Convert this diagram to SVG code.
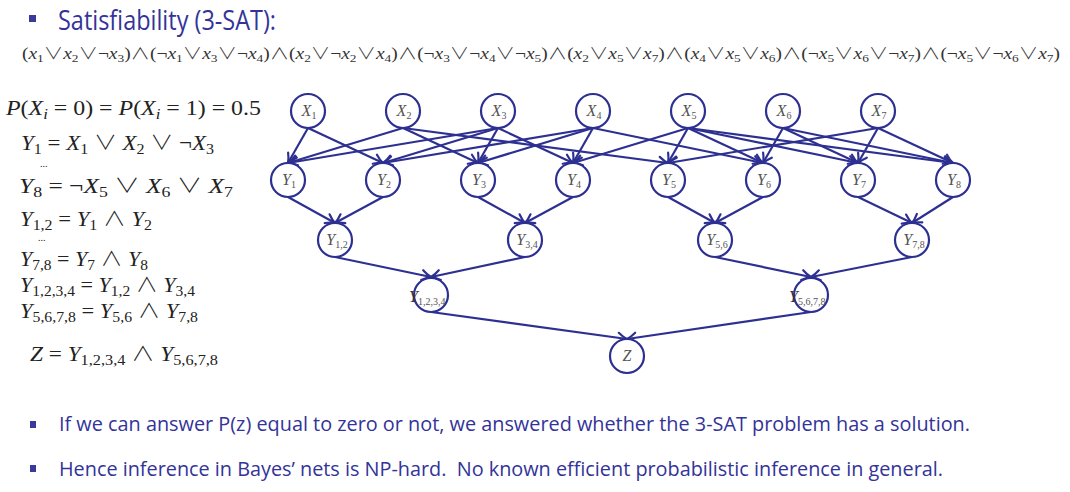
<svg xmlns="http://www.w3.org/2000/svg" width="1070" height="492" viewBox="0 0 1070 492">
<style>
.title{font-family:"Open Sans","Liberation Sans",sans-serif;font-size:28px;fill:#333399}
.bul{font-family:"Open Sans","Liberation Sans",sans-serif;font-size:20px;fill:#333399}
.sq{fill:#3a3a9a}
.f{font-family:"Liberation Serif","DejaVu Serif",serif;font-size:16px;fill:#333}
.eq{font-family:"Liberation Serif","DejaVu Serif",serif;font-size:20px;fill:#222}
.o{font-family:"DejaVu Sans","Noto Sans CJK JP",sans-serif;font-weight:200}
.i{font-style:italic}
.s{font-size:11px}
.s2{font-size:14px}
.node circle{fill:#fff;stroke:#2d3091;stroke-width:2.2}
.lab{font-family:"Liberation Serif",serif;font-size:16px;fill:#555;font-style:italic;text-anchor:middle}
.lab .n{font-style:normal;font-size:10px}
.lab2{font-family:"Liberation Serif",serif;font-size:16px;fill:#333;font-style:italic}
.lab2 .n{font-style:normal;font-size:10px;fill:#555}
#edges line{stroke:#2d3091;stroke-width:2.2;marker-end:url(#ah)}
</style>
<defs>
<marker id="ah" viewBox="-11 -7 13 14" refX="0" refY="0" markerWidth="13" markerHeight="14" markerUnits="userSpaceOnUse" orient="auto" overflow="visible">
<path d="M-9,-5 Q-4,-1.2 0,0 Q-4,1.2 -9,5" fill="none" stroke="#2d3091" stroke-width="2.2" stroke-linecap="round"/>
</marker>
</defs>
<rect width="1070" height="492" fill="#fff"/>

<rect class="sq" x="29" y="15" width="7" height="7"/>
<text class="title" x="58" y="30" textLength="218" lengthAdjust="spacingAndGlyphs">Satisfiability (3-SAT):</text>

<text class="f" x="22" y="59" textLength="1038" lengthAdjust="spacingAndGlyphs">(<tspan class="i">x</tspan><tspan class="s" dy="3">1</tspan><tspan dy="-3"><tspan class="o">∨</tspan></tspan><tspan class="i">x</tspan><tspan class="s" dy="3">2</tspan><tspan dy="-3"><tspan class="o">∨</tspan>¬</tspan><tspan class="i">x</tspan><tspan class="s" dy="3">3</tspan><tspan dy="-3">)<tspan class="o">∧</tspan>(¬</tspan><tspan class="i">x</tspan><tspan class="s" dy="3">1</tspan><tspan dy="-3"><tspan class="o">∨</tspan></tspan><tspan class="i">x</tspan><tspan class="s" dy="3">3</tspan><tspan dy="-3"><tspan class="o">∨</tspan>¬</tspan><tspan class="i">x</tspan><tspan class="s" dy="3">4</tspan><tspan dy="-3">)<tspan class="o">∧</tspan>(</tspan><tspan class="i">x</tspan><tspan class="s" dy="3">2</tspan><tspan dy="-3"><tspan class="o">∨</tspan>¬</tspan><tspan class="i">x</tspan><tspan class="s" dy="3">2</tspan><tspan dy="-3"><tspan class="o">∨</tspan></tspan><tspan class="i">x</tspan><tspan class="s" dy="3">4</tspan><tspan dy="-3">)<tspan class="o">∧</tspan>(¬</tspan><tspan class="i">x</tspan><tspan class="s" dy="3">3</tspan><tspan dy="-3"><tspan class="o">∨</tspan>¬</tspan><tspan class="i">x</tspan><tspan class="s" dy="3">4</tspan><tspan dy="-3"><tspan class="o">∨</tspan>¬</tspan><tspan class="i">x</tspan><tspan class="s" dy="3">5</tspan><tspan dy="-3">)<tspan class="o">∧</tspan>(</tspan><tspan class="i">x</tspan><tspan class="s" dy="3">2</tspan><tspan dy="-3"><tspan class="o">∨</tspan></tspan><tspan class="i">x</tspan><tspan class="s" dy="3">5</tspan><tspan dy="-3"><tspan class="o">∨</tspan></tspan><tspan class="i">x</tspan><tspan class="s" dy="3">7</tspan><tspan dy="-3">)<tspan class="o">∧</tspan>(</tspan><tspan class="i">x</tspan><tspan class="s" dy="3">4</tspan><tspan dy="-3"><tspan class="o">∨</tspan></tspan><tspan class="i">x</tspan><tspan class="s" dy="3">5</tspan><tspan dy="-3"><tspan class="o">∨</tspan></tspan><tspan class="i">x</tspan><tspan class="s" dy="3">6</tspan><tspan dy="-3">)<tspan class="o">∧</tspan>(¬</tspan><tspan class="i">x</tspan><tspan class="s" dy="3">5</tspan><tspan dy="-3"><tspan class="o">∨</tspan></tspan><tspan class="i">x</tspan><tspan class="s" dy="3">6</tspan><tspan dy="-3"><tspan class="o">∨</tspan>¬</tspan><tspan class="i">x</tspan><tspan class="s" dy="3">7</tspan><tspan dy="-3">)<tspan class="o">∧</tspan>(¬</tspan><tspan class="i">x</tspan><tspan class="s" dy="3">5</tspan><tspan dy="-3"><tspan class="o">∨</tspan>¬</tspan><tspan class="i">x</tspan><tspan class="s" dy="3">6</tspan><tspan dy="-3"><tspan class="o">∨</tspan></tspan><tspan class="i">x</tspan><tspan class="s" dy="3">7</tspan><tspan dy="-3">)</tspan></text>

<g id="equations">
<text class="eq" x="6" y="115" textLength="255" lengthAdjust="spacingAndGlyphs"><tspan class="i">P</tspan>(<tspan class="i">X</tspan><tspan class="s2 i" dy="4">i</tspan><tspan dy="-4"> = 0) = </tspan><tspan class="i">P</tspan>(<tspan class="i">X</tspan><tspan class="s2 i" dy="4">i</tspan><tspan dy="-4"> = 1) = 0.5</tspan></text>
<text class="eq" x="21" y="150" textLength="193" lengthAdjust="spacingAndGlyphs"><tspan class="i">Y</tspan><tspan class="s2" dy="4">1</tspan><tspan dy="-4"> = </tspan><tspan class="i">X</tspan><tspan class="s2" dy="4">1</tspan><tspan dy="-4"> <tspan class="o">∨</tspan> </tspan><tspan class="i">X</tspan><tspan class="s2" dy="4">2</tspan><tspan dy="-4"> <tspan class="o">∨</tspan> ¬</tspan><tspan class="i">X</tspan><tspan class="s2" dy="4">3</tspan></text>
<text class="eq" x="40" y="167" style="font-size:10px">...</text>
<text class="eq" x="19" y="193" textLength="214" lengthAdjust="spacingAndGlyphs"><tspan class="i">Y</tspan><tspan class="s2" dy="4">8</tspan><tspan dy="-4"> = ¬</tspan><tspan class="i">X</tspan><tspan class="s2" dy="4">5</tspan><tspan dy="-4"> <tspan class="o">∨</tspan> </tspan><tspan class="i">X</tspan><tspan class="s2" dy="4">6</tspan><tspan dy="-4"> <tspan class="o">∨</tspan> </tspan><tspan class="i">X</tspan><tspan class="s2" dy="4">7</tspan></text>
<text class="eq" x="20" y="226" textLength="132" lengthAdjust="spacingAndGlyphs"><tspan class="i">Y</tspan><tspan class="s2" dy="4">1,2</tspan><tspan dy="-4"> = </tspan><tspan class="i">Y</tspan><tspan class="s2" dy="4">1</tspan><tspan dy="-4"> <tspan class="o">∧</tspan> </tspan><tspan class="i">Y</tspan><tspan class="s2" dy="4">2</tspan></text>
<text class="eq" x="38" y="241" style="font-size:10px">...</text>
<text class="eq" x="20" y="266" textLength="128" lengthAdjust="spacingAndGlyphs"><tspan class="i">Y</tspan><tspan class="s2" dy="4">7,8</tspan><tspan dy="-4"> = </tspan><tspan class="i">Y</tspan><tspan class="s2" dy="4">7</tspan><tspan dy="-4"> <tspan class="o">∧</tspan> </tspan><tspan class="i">Y</tspan><tspan class="s2" dy="4">8</tspan></text>
<text class="eq" x="20" y="292" textLength="175" lengthAdjust="spacingAndGlyphs"><tspan class="i">Y</tspan><tspan class="s2" dy="4">1,2,3,4</tspan><tspan dy="-4"> = </tspan><tspan class="i">Y</tspan><tspan class="s2" dy="4">1,2</tspan><tspan dy="-4"> <tspan class="o">∧</tspan> </tspan><tspan class="i">Y</tspan><tspan class="s2" dy="4">3,4</tspan></text>
<text class="eq" x="20" y="318" textLength="178" lengthAdjust="spacingAndGlyphs"><tspan class="i">Y</tspan><tspan class="s2" dy="4">5,6,7,8</tspan><tspan dy="-4"> = </tspan><tspan class="i">Y</tspan><tspan class="s2" dy="4">5,6</tspan><tspan dy="-4"> <tspan class="o">∧</tspan> </tspan><tspan class="i">Y</tspan><tspan class="s2" dy="4">7,8</tspan></text>
<text class="eq" x="30" y="361" textLength="188" lengthAdjust="spacingAndGlyphs"><tspan class="i">Z</tspan> = <tspan class="i">Y</tspan><tspan class="s2" dy="4">1,2,3,4</tspan><tspan dy="-4"> <tspan class="o">∧</tspan> </tspan><tspan class="i">Y</tspan><tspan class="s2" dy="4">5,6,7,8</tspan></text>
</g>

<g id="edges">
<line x1="308" y1="128" x2="288" y2="163"/>
<line x1="308" y1="128" x2="383" y2="163"/>
<line x1="403" y1="128" x2="288" y2="163"/>
<line x1="403" y1="128" x2="478" y2="163"/>
<line x1="403" y1="128" x2="668" y2="163"/>
<line x1="498" y1="128" x2="288" y2="163"/>
<line x1="498" y1="128" x2="383" y2="163"/>
<line x1="498" y1="128" x2="478" y2="163"/>
<line x1="498" y1="128" x2="573" y2="163"/>
<line x1="593" y1="128" x2="383" y2="163"/>
<line x1="593" y1="128" x2="478" y2="163"/>
<line x1="593" y1="128" x2="573" y2="163"/>
<line x1="593" y1="128" x2="763" y2="163"/>
<line x1="688" y1="128" x2="573" y2="163"/>
<line x1="688" y1="128" x2="668" y2="163"/>
<line x1="688" y1="128" x2="763" y2="163"/>
<line x1="688" y1="128" x2="858" y2="163"/>
<line x1="688" y1="128" x2="953" y2="163"/>
<line x1="783" y1="128" x2="763" y2="163"/>
<line x1="783" y1="128" x2="858" y2="163"/>
<line x1="783" y1="128" x2="953" y2="163"/>
<line x1="878" y1="128" x2="668" y2="163"/>
<line x1="878" y1="128" x2="858" y2="163"/>
<line x1="878" y1="128" x2="953" y2="163"/>
<line x1="288" y1="197" x2="335" y2="223"/>
<line x1="383" y1="197" x2="335" y2="223"/>
<line x1="478" y1="197" x2="525" y2="223"/>
<line x1="573" y1="197" x2="525" y2="223"/>
<line x1="668" y1="197" x2="715" y2="223"/>
<line x1="763" y1="197" x2="715" y2="223"/>
<line x1="858" y1="197" x2="912" y2="223"/>
<line x1="953" y1="197" x2="912" y2="223"/>
<line x1="335" y1="257" x2="431" y2="277"/>
<line x1="525" y1="257" x2="431" y2="277"/>
<line x1="715" y1="257" x2="811" y2="277"/>
<line x1="912" y1="257" x2="811" y2="277"/>
<line x1="431" y1="312" x2="627" y2="339"/>
<line x1="811" y1="312" x2="627" y2="339"/>
</g>

<g id="X1" class="node"><circle cx="308" cy="111" r="17"/><text class="lab" x="309" y="116">X<tspan class="n" dy="3">1</tspan></text></g>
<g id="X2" class="node"><circle cx="403" cy="111" r="17"/><text class="lab" x="404" y="116">X<tspan class="n" dy="3">2</tspan></text></g>
<g id="X3" class="node"><circle cx="498" cy="111" r="17"/><text class="lab" x="499" y="116">X<tspan class="n" dy="3">3</tspan></text></g>
<g id="X4" class="node"><circle cx="593" cy="111" r="17"/><text class="lab" x="594" y="116">X<tspan class="n" dy="3">4</tspan></text></g>
<g id="X5" class="node"><circle cx="688" cy="111" r="17"/><text class="lab" x="689" y="116">X<tspan class="n" dy="3">5</tspan></text></g>
<g id="X6" class="node"><circle cx="783" cy="111" r="17"/><text class="lab" x="784" y="116">X<tspan class="n" dy="3">6</tspan></text></g>
<g id="X7" class="node"><circle cx="878" cy="111" r="17"/><text class="lab" x="879" y="116">X<tspan class="n" dy="3">7</tspan></text></g>

<g id="Y1" class="node"><circle cx="288" cy="180" r="17"/><text class="lab" x="289" y="185">Y<tspan class="n" dy="3">1</tspan></text></g>
<g id="Y2" class="node"><circle cx="383" cy="180" r="17"/><text class="lab" x="384" y="185">Y<tspan class="n" dy="3">2</tspan></text></g>
<g id="Y3" class="node"><circle cx="478" cy="180" r="17"/><text class="lab" x="479" y="185">Y<tspan class="n" dy="3">3</tspan></text></g>
<g id="Y4" class="node"><circle cx="573" cy="180" r="17"/><text class="lab" x="574" y="185">Y<tspan class="n" dy="3">4</tspan></text></g>
<g id="Y5" class="node"><circle cx="668" cy="180" r="17"/><text class="lab" x="669" y="185">Y<tspan class="n" dy="3">5</tspan></text></g>
<g id="Y6" class="node"><circle cx="763" cy="180" r="17"/><text class="lab" x="764" y="185">Y<tspan class="n" dy="3">6</tspan></text></g>
<g id="Y7" class="node"><circle cx="858" cy="180" r="17"/><text class="lab" x="859" y="185">Y<tspan class="n" dy="3">7</tspan></text></g>
<g id="Y8" class="node"><circle cx="953" cy="180" r="17"/><text class="lab" x="954" y="185">Y<tspan class="n" dy="3">8</tspan></text></g>

<g id="Y12" class="node"><circle cx="335" cy="240" r="17"/><text class="lab" x="337" y="245">Y<tspan class="n" dy="3">1,2</tspan></text></g>
<g id="Y34" class="node"><circle cx="525" cy="240" r="17"/><text class="lab" x="527" y="245">Y<tspan class="n" dy="3">3,4</tspan></text></g>
<g id="Y56" class="node"><circle cx="715" cy="240" r="17"/><text class="lab" x="717" y="245">Y<tspan class="n" dy="3">5,6</tspan></text></g>
<g id="Y78" class="node"><circle cx="912" cy="240" r="17"/><text class="lab" x="914" y="245">Y<tspan class="n" dy="3">7,8</tspan></text></g>

<g id="Y1234" class="node"><circle cx="431" cy="295" r="17"/><text class="lab2" x="409" y="302">Y<tspan class="n" dy="3">1,2,3,4</tspan></text></g>
<g id="Y5678" class="node"><circle cx="811" cy="295" r="17"/><text class="lab2" x="789" y="302">Y<tspan class="n" dy="3">5,6,7,8</tspan></text></g>

<g id="Z" class="node"><circle cx="627" cy="356" r="17"/><text class="lab" x="627" y="361">Z</text></g>

<rect class="sq" x="30" y="421" width="6" height="7"/>
<text class="bul" x="59" y="431" textLength="911" lengthAdjust="spacingAndGlyphs">If we can answer P(z) equal to zero or not, we answered whether the 3-SAT problem has a solution.</text>
<rect class="sq" x="30" y="465" width="6" height="7"/>
<text class="bul" x="59" y="476" textLength="884" lengthAdjust="spacingAndGlyphs">Hence inference in Bayes’ nets is NP-hard.&#160; No known efficient probabilistic inference in general.</text>
</svg>
